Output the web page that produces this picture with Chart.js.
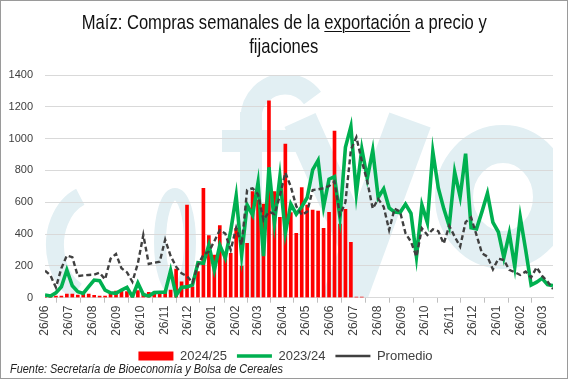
<!DOCTYPE html>
<html>
<head>
<meta charset="utf-8">
<script src="https://cdn.jsdelivr.net/npm/chart.js@4.4.1/dist/chart.umd.min.js"></script>
<style>
  html, body { margin: 0; padding: 0; background: #fff; }
  #wrap { position: relative; width: 568px; height: 379px; overflow: hidden; }
  #frame { position: absolute; left: 0; top: 0; width: 568px; height: 379px; box-sizing: border-box; border: 1px solid #9a9a9a; pointer-events: none; }
  #title { position: absolute; left: 0; top: 10px; width: 568px; text-align: center; font-family: "Liberation Sans", sans-serif; font-size: 21px; line-height: 24px; color: #111; }
  #title span { display: inline-block; white-space: nowrap; transform-origin: 50% 50%; }
  #title u { text-underline-offset: 2px; text-decoration-thickness: 1px; }
  #fuente { position: absolute; left: 10px; top: 362px; font-family: "Liberation Sans", sans-serif; font-style: italic; font-size: 12px; color: #222; white-space: nowrap; transform-origin: 0 50%; }
  canvas { position: absolute; left: 0; top: 0; }
</style>
</head>
<body>
<div id="wrap">
  <canvas id="chart" width="568" height="379"></canvas>
  <div id="title"><span id="t1">Maíz: Compras semanales de la <u>exportación</u> a precio y</span><br><span id="t2">fijaciones</span></div>
  <div id="fuente">Fuente: Secretaría de Bioeconomía y Bolsa de Cereales</div>
  <div id="frame"></div>
</div>
<script>
// datos semanales (semana 0 = 26/06)
var startDate = new Date(2024, 5, 26);
var tickLabels = ['26/06', '26/07', '26/08', '26/09', '26/10', '26/11', '26/12', '26/01', '26/02', '26/03', '26/04',
                  '26/05', '26/06', '26/07', '26/08', '26/09', '26/10', '26/11', '26/12', '26/01', '26/02', '26/03'];

var compras2425 = [0, 0, 10, 10, 23, 23, 17, 23, 23, 15, 10, 10, 27, 42, 48, 38, 27, 44, 27, 34,
                   36, 34, 42, 48, 180, 100, 583, 69, 164, 688, 390, 268, 453, 285, 279, 436, 199, 342, 667, 614,
                   589, 1237, 667, 505, 965, 535, 405, 692, 583, 551, 545, 436, 537, 1048, 463, 556, 348, 3, 3];

var compras2324 = [17, 10, 31, 69, 174, 75, 38, 27, 69, 111, 107, 48, 31, 27, 48, 65, 6, 92, 20, 10,
                   32, 34, 34, 170, 15, 66, 68, 80, 220, 216, 331, 174, 331, 250, 420, 640, 268, 583, 520, 723,
                   262, 820, 468, 760, 405, 589, 525, 572, 630, 803, 863, 572, 745, 761, 505, 946, 1076, 656, 935, 750,
                   927, 630, 684, 565, 538, 535, 588, 530, 258, 583, 472, 918, 690, 560, 450, 790, 635, 905, 440, 433,
                   541, 656, 473, 413, 252, 405, 195, 507, 300, 80, 98, 122, 82, 76];

var promedio = [170, 140, 65, 185, 265, 255, 136, 140, 143, 145, 157, 115, 245, 275, 185, 160, 100, 216, 394, 212,
                220, 226, 365, 262, 195, 153, 136, 95, 205, 270, 290, 355, 425, 404, 300, 440, 331, 677, 688, 650,
                488, 541, 526, 640, 786, 698, 575, 520, 541, 677, 681, 688, 702, 730, 520, 600, 930, 1009, 860, 730,
                560, 620, 572, 426, 560, 541, 405, 352, 258, 436, 394, 430, 418, 340, 452, 384, 321, 475, 505, 394,
                279, 258, 178, 245, 237, 175, 160, 143, 164, 127, 191, 137, 101, 55];

// posicion de cada etiqueta mensual, en semanas desde el inicio
var tickPos = tickLabels.map(function(lbl, k) {
    var d = new Date(2024, 5 + k, 26);
    return (d - startDate) / (7 * 86400000);
});

function toPoints(arr) {
    return arr.map(function(v, i) { return { x: i, y: v }; });
}

// comprimir titulo y fuente al ancho del original
var t1 = document.getElementById('t1');
var s = 405 / t1.getBoundingClientRect().width;
t1.style.transform = 'scaleX(' + s + ')';
document.getElementById('t2').style.transform = 'scaleX(' + s + ')';
var fuente = document.getElementById('fuente');
fuente.style.transform = 'scaleX(' + (273 / fuente.getBoundingClientRect().width) + ')';

// marca de agua de fondo
var watermark = {
    id: 'watermark',
    beforeDraw: function(chart) {
        var ctx = chart.ctx;
        var a = chart.chartArea;
        ctx.save();
        ctx.beginPath();
        ctx.rect(a.left, a.top, a.right - a.left, a.bottom - a.top);
        ctx.clip();
        ctx.strokeStyle = '#e2eff3';
        ctx.fillStyle = '#e2eff3';

        ctx.lineWidth = 18;
        ctx.beginPath();
        ctx.ellipse(95, 245, 40, 52, 0, 0.65 * Math.PI, 1.38 * Math.PI);
        ctx.stroke();

        ctx.lineWidth = 12;
        ctx.beginPath();
        ctx.ellipse(175, 242, 15, 48, 0, 0, 2 * Math.PI);
        ctx.stroke();

        // f
        ctx.fillRect(240, 112, 22, 190);
        ctx.fillRect(222, 130, 80, 22);
        ctx.lineWidth = 21;
        ctx.beginPath();
        ctx.arc(285, 118, 34, Math.PI, 1.8 * Math.PI);
        ctx.stroke();

        // y
        ctx.lineCap = 'butt';
        ctx.lineWidth = 44;
        ctx.beginPath();
        ctx.moveTo(410, 120);
        ctx.lineTo(340, 310);
        ctx.stroke();
        ctx.lineWidth = 34;
        ctx.beginPath();
        ctx.moveTo(300, 120);
        ctx.lineTo(358, 250);
        ctx.stroke();

        // o
        ctx.lineWidth = 38;
        ctx.beginPath();
        ctx.ellipse(503, 197, 49, 53, 0, 0, 2 * Math.PI);
        ctx.stroke();
        ctx.restore();
    },
    afterLayout: function(chart) {
        // centrar la leyenda como en el original
        chart.legend.left += 9;
        chart.legend.right += 9;
    }
};

var ctx = document.getElementById('chart').getContext('2d');
var chart = new Chart(ctx, {
    type: 'bar',
    data: {
        datasets: [{
            label: '2024/25',
            data: toPoints(compras2425),
            backgroundColor: '#ff0000',
            borderWidth: 0,
            barThickness: 3,
            pointStyle: 'rect',
            order: 3
        }, {
            type: 'line',
            label: '2023/24',
            data: toPoints(compras2324),
            borderColor: '#00b050',
            backgroundColor: '#00b050',
            borderWidth: 3.6,
            pointRadius: 0,
            tension: 0,
            pointStyle: 'line',
            order: 2
        }, {
            type: 'line',
            label: 'Promedio',
            data: toPoints(promedio),
            borderColor: '#404040',
            backgroundColor: '#404040',
            borderWidth: 2.4,
            borderDash: [5, 3],
            pointRadius: 0,
            tension: 0,
            pointStyle: 'line',
            order: 1
        }]
    },
    options: {
        responsive: false,
        animation: false,
        layout: { padding: { top: 75, right: 15, bottom: 6.5, left: 0 } },
        plugins: {
            title: { display: false },
            tooltip: { enabled: false },
            legend: {
                position: 'bottom',
                labels: {
                    usePointStyle: true,
                    pointStyleWidth: 35,
                    boxHeight: 9,
                    padding: 10,
                    color: '#404040',
                    font: { family: 'Liberation Sans', size: 13 },
                    sort: function(a, b) { return a.datasetIndex - b.datasetIndex; }
                }
            }
        },
        scales: {
            x: {
                type: 'linear',
                min: 0,
                max: compras2324.length - 1,
                offset: false,
                afterBuildTicks: function(axis) {
                    axis.ticks = tickPos.map(function(v) { return { value: v }; });
                },
                afterFit: function(axis) { axis.height = 41.8; },
                ticks: {
                    autoSkip: false,
                    maxRotation: 90,
                    minRotation: 90,
                    padding: 3,
                    color: '#404040',
                    font: { family: 'Liberation Sans', size: 12 },
                    callback: function(v, idx) { return tickLabels[idx]; }
                },
                grid: { drawOnChartArea: false, drawTicks: true, tickLength: 5, color: '#bfbfbf' },
                border: { display: true, color: '#d9d9d9' }
            },
            y: {
                min: 0,
                max: 1400,
                afterFit: function(axis) { axis.width = 45; },
                ticks: {
                    stepSize: 200,
                    padding: 12,
                    color: '#404040',
                    font: { family: 'Liberation Sans', size: 11 },
                    callback: function(v) { return String(v); }
                },
                grid: { color: '#d9d9d9', drawTicks: false },
                border: { display: false }
            }
        }
    },
    plugins: [watermark]
});
</script>
</body>
</html>
